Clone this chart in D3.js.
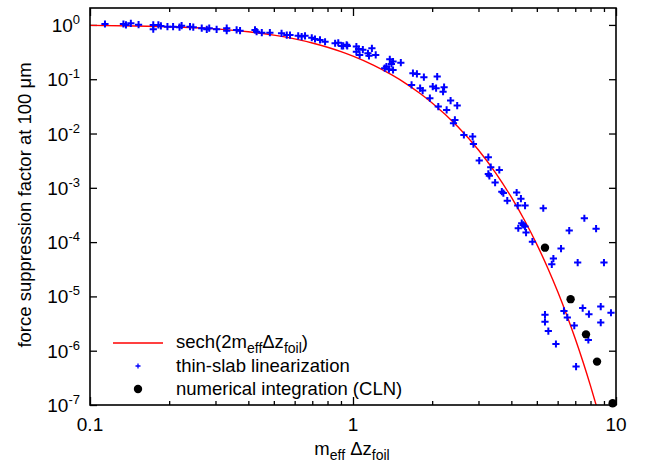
<!DOCTYPE html>
<html>
<head>
<meta charset="utf-8">
<script src="https://cdn.jsdelivr.net/npm/d3@7/dist/d3.min.js"></script>
<style>
  body { margin: 0; background: #fff; }
  svg text { font-family: "Liberation Sans", Arial, Helvetica, sans-serif; fill: #000; }
</style>
</head>
<body>
<div id="chart-area"></div>
<script>
// values
var yTickValues = [1, 1e-1, 1e-2, 1e-3, 1e-4, 1e-5, 1e-6, 1e-7];
var yTickExp = ["0", "-1", "-2", "-3", "-4", "-5", "-6", "-7"];
var xMajor = [0.1, 1, 10];
var xMajorLabels = ["0.1", "1", "10"];
var xMinor = [0.2, 0.3, 0.4, 0.5, 0.6, 0.7, 0.8, 0.9, 2, 3, 4, 5, 6, 7, 8, 9];

// sech(2 m dz) line
var curveX = [0.1, 0.15, 0.2, 0.3, 0.4, 0.5, 0.6, 0.7, 0.8, 0.9, 1.0, 1.2, 1.4, 1.6, 1.8, 2.0, 2.5, 3.0, 3.5, 4.0, 4.5, 5.0, 5.5, 6.0, 6.5, 7.0, 7.5, 8.0, 8.5];
var curveY = [0.980, 0.957, 0.925, 0.844, 0.748, 0.648, 0.552, 0.465, 0.388, 0.322, 0.266, 0.180, 0.121, 0.0814, 0.0546, 0.0366, 0.01348, 0.00496, 0.001824, 6.71e-4, 2.47e-4, 9.08e-5, 3.34e-5, 1.229e-5, 4.52e-6, 1.663e-6, 6.12e-7, 2.25e-7, 8.28e-8];

// thin-slab linearization
var blueX = [0.114,0.134,0.137,0.143,0.153,0.174,0.174,0.182,0.186,0.197,
  0.207,0.219,0.223,0.240,0.247,0.266,0.278,0.284,0.303,0.331,
  0.331,0.361,0.372,0.424,0.430,0.450,0.483,0.535,0.560,0.576,
  0.619,0.638,0.657,0.697,0.717,0.749,0.783,0.855,0.879,0.918,
  0.946,0.906,0.951,1.03,1.05,1.03,1.09,1.06,1.14,1.18,
  1.15,1.22,1.38,1.42,1.40,1.52,1.34,1.37,1.42,1.32,
  1.69,1.75,1.86,2.09,1.67,1.80,1.84,2.01,2.07,2.22,
  2.20,1.96,2.11,2.27,2.35,2.49,2.44,2.41,2.64,2.85,
  2.87,3.02,3.27,3.34,3.60,3.27,3.30,3.47,3.68,3.73,
  3.86,4.19,4.35,4.23,4.51,5.29,4.38,4.44,4.25,4.51,
  4.55,4.81,7.58,8.40,6.64,6.18,5.78,5.70,7.15,9.0,
  7.47,7.89,8.75,9.57,8.75,6.34,6.53,6.94,5.37,5.37,
  5.53,5.91,7.85,7.05];
var blueY = [1.04,1.04,1.0,1.07,1.01,1.0,0.834,1.0,0.96,0.93,
  0.93,0.91,0.97,0.93,0.91,0.87,0.83,0.87,0.83,0.87,
  0.785,0.81,0.785,0.81,0.75,0.72,0.72,0.70,0.65,0.65,
  0.63,0.61,0.63,0.58,0.55,0.53,0.49,0.46,0.47,0.41,
  0.43,0.41,0.41,0.40,0.36,0.32,0.35,0.28,0.30,0.37,
  0.27,0.28,0.233,0.211,0.191,0.202,0.171,0.153,0.148,0.160,
  0.129,0.125,0.109,0.112,0.0785,0.0683,0.0617,0.0731,0.0683,0.0713,
  0.0591,0.0447,0.0313,0.0272,0.0404,0.0327,0.0178,0.0155,0.0094,0.0088,
  0.0064,0.00317,0.00366,0.00240,0.00214,0.00180,0.00166,0.00125,8.5e-4,8.0e-4,
  5.8e-4,8.2e-4,6.3e-4,4.7e-4,4.7e-4,4.2e-4,2.23e-4,2.07e-4,1.80e-4,1.93e-4,
  1.50e-4,1.02e-4,2.75e-4,1.77e-4,1.63e-4,7.6e-5,4.97e-5,3.9e-5,4.2e-5,4.2e-5,
  6.1e-6,4.7e-6,6.5e-6,5.0e-6,3.3e-6,5.4e-6,4.1e-6,2.9e-6,4.6e-6,3.4e-6,
  2.3e-6,1.33e-6,1.58e-6,5.1e-7];

// numerical integration (CLN)
var clnX = [5.37, 6.72, 7.69, 8.47, 9.71];
var clnY = [7.9e-5, 8.9e-6, 2.0e-6, 6.3e-7, 1.08e-7];

var margin = {top: 8, right: 34, bottom: 60, left: 90};
var width = 526;
var height = 397;

var svg = d3.select('#chart-area')
    .append('svg')
        .attr('width', 650)
        .attr('height', 465);

var g = svg.append("g")
    .attr("transform", "translate(" + margin.left + ", " + margin.top + ")");

var x = d3.scaleLog().domain([0.1, 10]).range([0, width]);
var y = d3.scaleLog().domain([1e-7, 2.05]).range([height, 0]);

g.append("clipPath").attr("id", "clip")
  .append("rect").attr("width", width).attr("height", height);

// ticks on all four sides, pointing inward
function styleAxis(sel) {
    sel.select(".domain").remove();
    sel.selectAll("line").attr("stroke", "#000").attr("stroke-width", 1.3);
}
g.append("g").call(d3.axisLeft(y).tickValues(yTickValues).tickSize(-7).tickFormat("")).call(styleAxis);
g.append("g").attr("transform", "translate(" + width + ",0)")
  .call(d3.axisRight(y).tickValues(yTickValues).tickSize(-7).tickFormat("")).call(styleAxis);
g.append("g").attr("transform", "translate(0," + height + ")")
  .call(d3.axisBottom(x).tickValues(xMajor).tickSize(-8).tickFormat("")).call(styleAxis);
g.append("g").attr("transform", "translate(0," + height + ")")
  .call(d3.axisBottom(x).tickValues(xMinor).tickSize(-4).tickFormat("")).call(styleAxis);
g.append("g")
  .call(d3.axisTop(x).tickValues(xMajor).tickSize(-8).tickFormat("")).call(styleAxis);
g.append("g")
  .call(d3.axisTop(x).tickValues(xMinor).tickSize(-4).tickFormat("")).call(styleAxis);

// tick labels
yTickValues.forEach(function(v, i) {
    var t = g.append("text")
        .attr("x", -10)
        .attr("y", y(v) + 7)
        .attr("text-anchor", "end")
        .attr("font-size", "19px");
    t.append("tspan").text("10");
    t.append("tspan").attr("dy", -8).attr("font-size", "13px").text(yTickExp[i]);
});
xMajor.forEach(function(v, i) {
    g.append("text")
        .attr("x", x(v))
        .attr("y", height + 26)
        .attr("text-anchor", "middle")
        .attr("font-size", "19px")
        .text(xMajorLabels[i]);
});

// curve
var line = d3.line()
    .x(function(d) { return x(d[0]); })
    .y(function(d) { return y(d[1]); })
    .curve(d3.curveMonotoneX);

var plot = g.append("g").attr("clip-path", "url(#clip)");
plot.append("path")
    .datum(curveX.map(function(v, i) { return [v, curveY[i]]; }))
    .attr("d", line)
    .attr("fill", "none")
    .attr("stroke", "#ff0000")
    .attr("stroke-width", 1.4);

var plus = "M-3.6,0H3.6M0,-3.6V3.6";
g.append("g").selectAll("path")
    .data(blueX.map(function(v, i) { return [v, blueY[i]]; }))
    .enter().append("path")
    .attr("d", plus)
    .attr("transform", function(d) { return "translate(" + x(d[0]) + "," + y(d[1]) + ")"; })
    .attr("stroke", "#0000ff")
    .attr("stroke-width", 2)
    .attr("fill", "none");

g.append("g").selectAll("circle")
    .data(clnX.map(function(v, i) { return [v, clnY[i]]; }))
    .enter().append("circle")
    .attr("cx", function(d) { return x(d[0]); })
    .attr("cy", function(d) { return y(d[1]); })
    .attr("r", 4.2)
    .attr("fill", "#000");

// frame
g.append("rect")
    .attr("width", width)
    .attr("height", height)
    .attr("fill", "none")
    .attr("stroke", "#000")
    .attr("stroke-width", 1.6);

// axis labels
var xLabel = g.append("text")
    .attr("x", 262)
    .attr("y", height + 50)
    .attr("text-anchor", "middle")
    .attr("font-size", "18.5px");
xLabel.append("tspan").text("m");
xLabel.append("tspan").attr("dy", 5).attr("font-size", "14px").text("eff");
xLabel.append("tspan").attr("dy", -5).text(" \u0394z");
xLabel.append("tspan").attr("dy", 5).attr("font-size", "14px").text("foil");

svg.append("text")
    .attr("transform", "translate(31," + 205 + ") rotate(-90)")
    .attr("text-anchor", "middle")
    .attr("font-size", "18.5px")
    .text("force suppression factor at 100 \u03bcm");

// legend
var legend = g.append("g");
legend.append("line")
    .attr("x1", 23).attr("x2", 73)
    .attr("y1", 335).attr("y2", 335)
    .attr("stroke", "#ff0000").attr("stroke-width", 1.4);
var l1 = legend.append("text").attr("x", 86).attr("y", 340).attr("font-size", "18.5px");
l1.append("tspan").text("sech(2m");
l1.append("tspan").attr("dy", 5).attr("font-size", "14px").text("eff");
l1.append("tspan").attr("dy", -5).text("\u0394z");
l1.append("tspan").attr("dy", 5).attr("font-size", "14px").text("foil");
l1.append("tspan").attr("dy", -5).text(")");

legend.append("path")
    .attr("d", "M-2.5,0H2.5M0,-2.5V2.5")
    .attr("transform", "translate(48,358)")
    .attr("stroke", "#0000ff").attr("stroke-width", 1.3);
legend.append("text").attr("x", 86).attr("y", 364).attr("font-size", "18.5px")
    .text("thin-slab linearization");

legend.append("circle")
    .attr("cx", 48).attr("cy", 381).attr("r", 4.2).attr("fill", "#000");
legend.append("text").attr("x", 86).attr("y", 387).attr("font-size", "18.5px")
    .text("numerical integration (CLN)");
</script>
</body>
</html>
